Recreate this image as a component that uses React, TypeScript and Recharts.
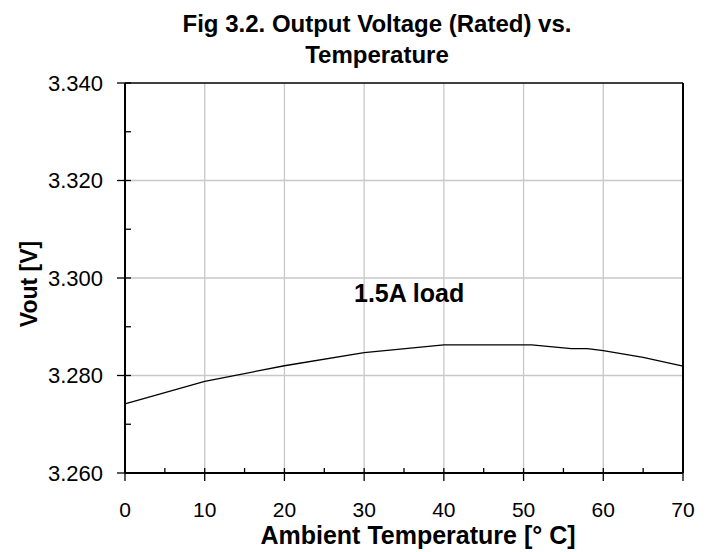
import { Line, LineChart, ReferenceLine, XAxis, YAxis } from "recharts"

// ambient temperature (°C) and measured output voltage (V)
const temps = [0, 10, 20, 30, 40, 51, 56, 58, 60, 65, 70]
const vout = [3.2742, 3.2788, 3.282, 3.2847, 3.2863, 3.2863, 3.2855, 3.2855, 3.2851, 3.2837, 3.2819]

const xTicks = [0, 5, 10, 15, 20, 25, 30, 35, 40, 45, 50, 55, 60, 65, 70]
const yTicks = [3.26, 3.27, 3.28, 3.29, 3.3, 3.31, 3.32, 3.33, 3.34]
const xGrid = [10, 20, 30, 40, 50, 60]
const yGrid = [3.28, 3.3, 3.32]

const data = temps.map((t, i) => ({ t, v: vout[i] }))

const FONT = "'Liberation Sans', Arial, sans-serif"
const W = 710
const H = 552

function XTick({ x, y, payload }: any) {
  const major = payload.value % 10 === 0
  return (
    <g>
      <line x1={x} x2={x} y1={y - 5} y2={major ? y + 8 : y} stroke="#000" strokeWidth={1.3} />
      {major && (
        <text x={x} y={y + 44} textAnchor="middle" fontSize={21} fontFamily={FONT} fill="#000">
          {payload.value}
        </text>
      )}
    </g>
  )
}

function YTick({ x, y, payload }: any) {
  const major = Math.round(payload.value * 1000) % 20 === 0
  return (
    <g>
      <line x1={major ? x - 8 : x} x2={x + 6} y1={y} y2={y} stroke="#000" strokeWidth={1.3} />
      {major && (
        <text x={x - 22} y={y} dy="0.36em" textAnchor="end" fontSize={22} fontFamily={FONT} fill="#000">
          {payload.value.toFixed(3)}
        </text>
      )}
    </g>
  )
}

export default function App() {
  return (
    <div style={{ position: "absolute", left: 0, top: 0, width: W, height: H, background: "#fff" }}>
      <LineChart width={W} height={H} data={data} margin={{ top: 83, right: 27, left: 0, bottom: 0 }}>
        {xGrid.map((g) => (
          <ReferenceLine key={"x" + g} x={g} stroke="#c8c8c8" strokeWidth={1.3} />
        ))}
        {yGrid.map((g) => (
          <ReferenceLine key={"y" + g} y={g} stroke="#c8c8c8" strokeWidth={1.3} />
        ))}
        <ReferenceLine y={3.34} stroke="#000" strokeWidth={1.5} />
        <ReferenceLine x={70} stroke="#000" strokeWidth={2} />
        <XAxis
          dataKey="t"
          type="number"
          domain={[0, 70]}
          ticks={xTicks}
          interval={0}
          height={79}
          tickSize={0}
          tickMargin={0}
          tickLine={false}
          tick={<XTick />}
          axisLine={{ stroke: "#000", strokeWidth: 2 }}
        />
        <YAxis
          type="number"
          domain={[3.26, 3.34]}
          ticks={yTicks}
          interval={0}
          width={125}
          tickSize={0}
          tickMargin={0}
          tickLine={false}
          tick={<YTick />}
          axisLine={{ stroke: "#000", strokeWidth: 2 }}
          allowDataOverflow
        />
        <Line
          dataKey="v"
          type="linear"
          stroke="#000"
          strokeWidth={1.3}
          dot={false}
          activeDot={false}
          isAnimationActive={false}
        />
      </LineChart>
      <svg
        width={W}
        height={H}
        style={{ position: "absolute", left: 0, top: 0, pointerEvents: "none" }}
        fontFamily={FONT}
        fill="#000"
      >
        <text x={377} y={32} textAnchor="middle" fontSize={24} fontWeight="bold">
          Fig 3.2. Output Voltage (Rated) vs.
        </text>
        <text x={377} y={63} textAnchor="middle" fontSize={24} fontWeight="bold">
          Temperature
        </text>
        <text x={418} y={544} textAnchor="middle" fontSize={25} fontWeight="bold">
          Ambient Temperature [° C]
        </text>
        <text x={37} y={284} textAnchor="middle" fontSize={23} fontWeight="bold" transform="rotate(-90 37 284)">
          Vout [V]
        </text>
        <text x={354} y={302} fontSize={25} fontWeight="bold">
          1.5A load
        </text>
      </svg>
    </div>
  )
}
